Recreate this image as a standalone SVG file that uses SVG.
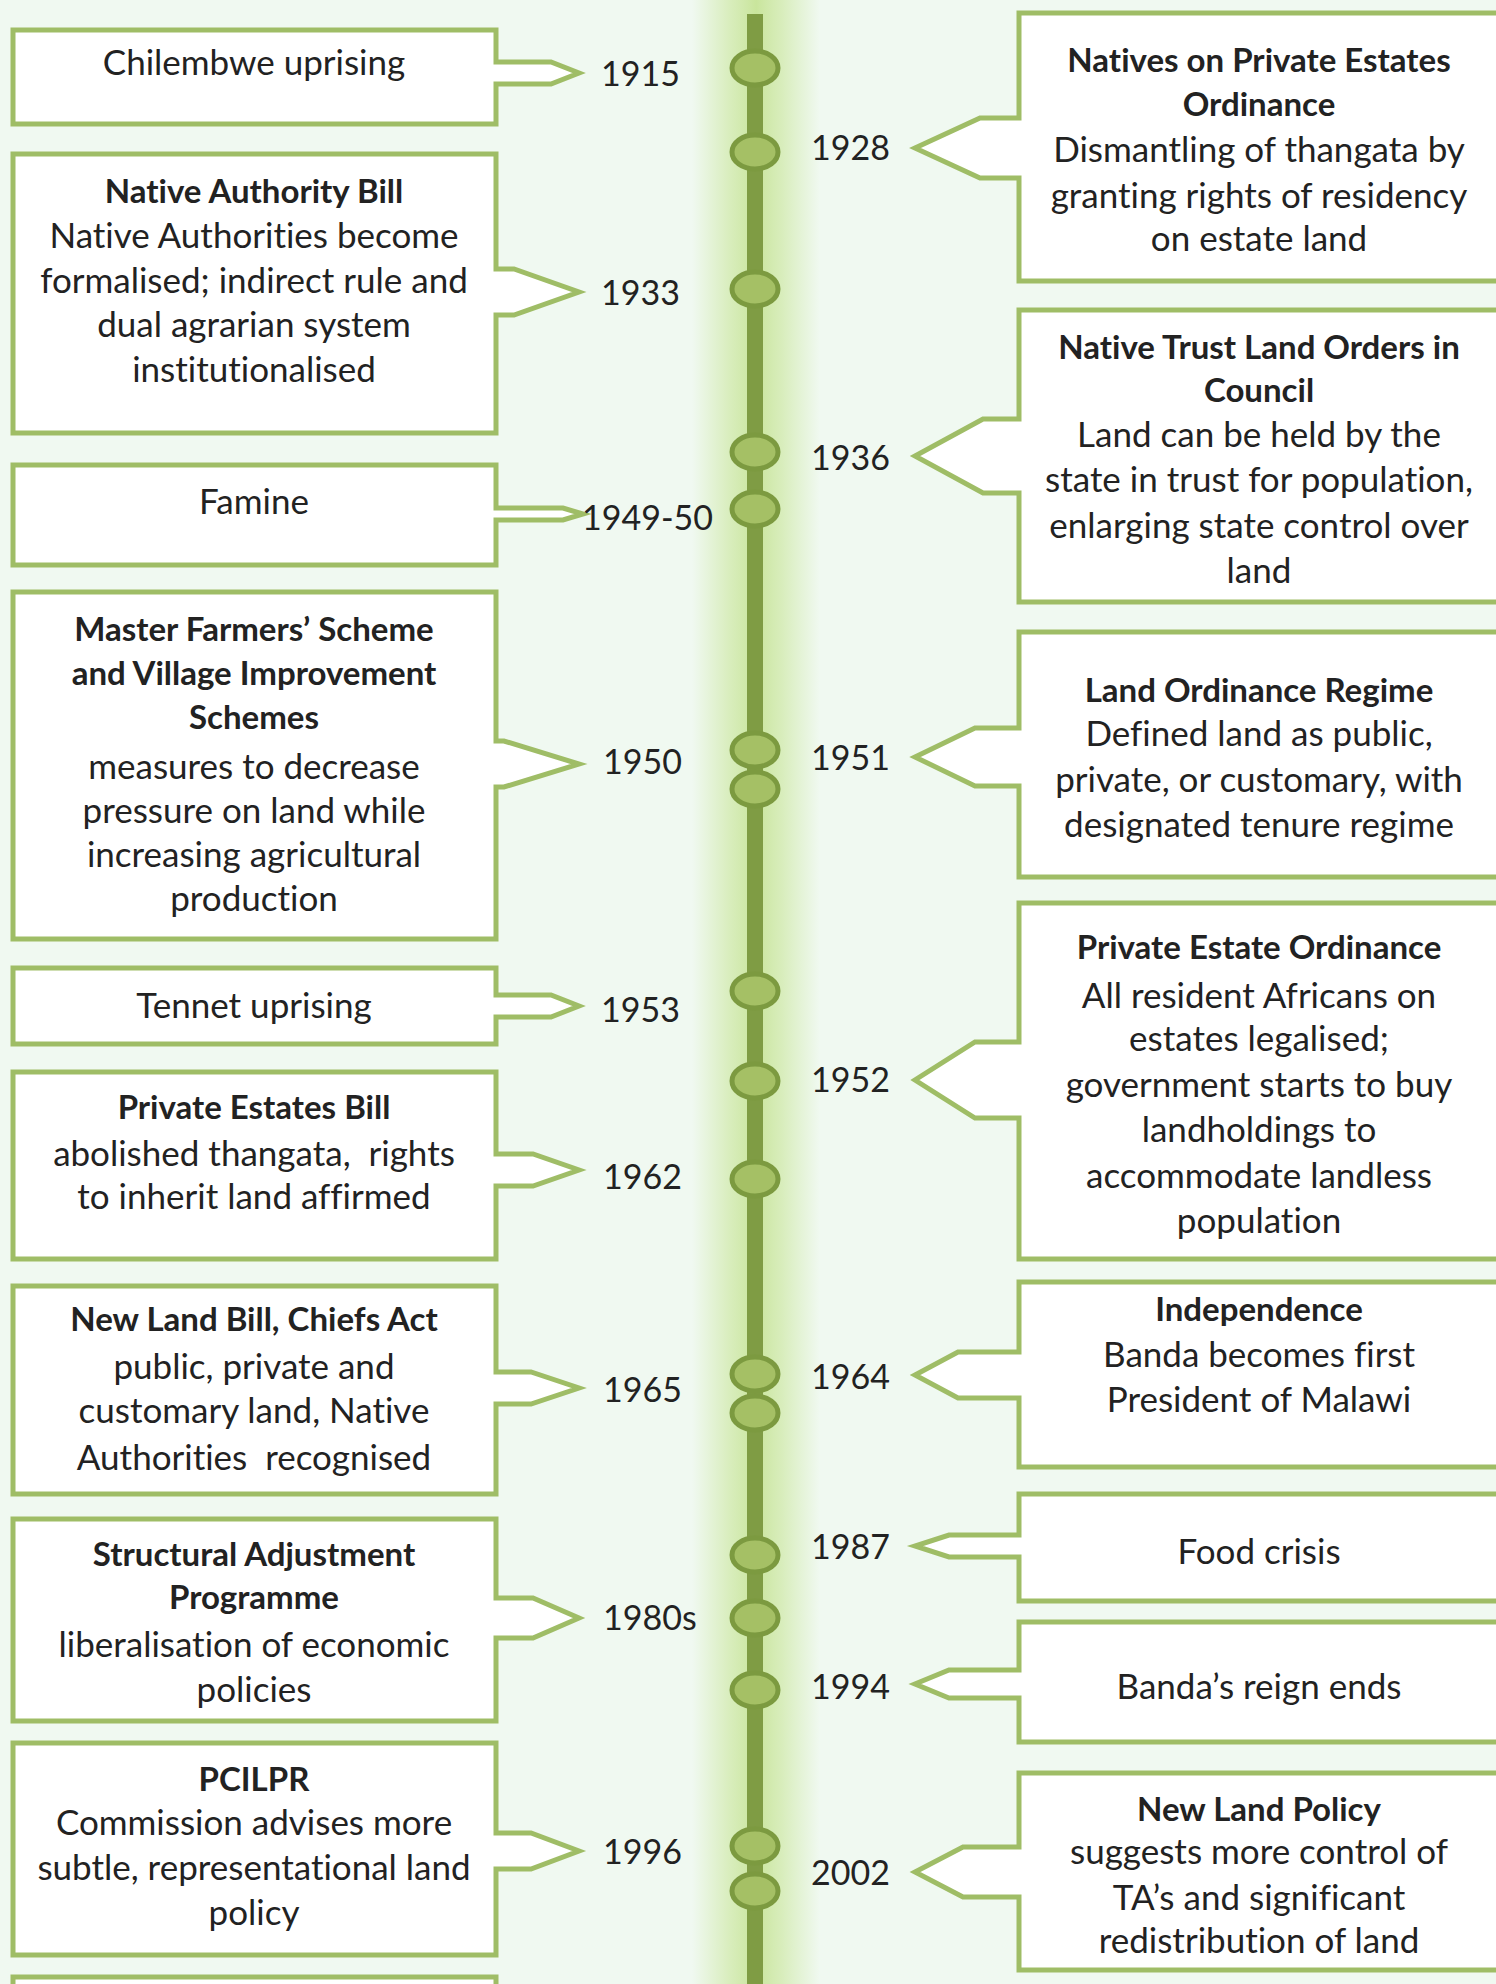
<svg xmlns="http://www.w3.org/2000/svg" width="1496" height="1984" viewBox="0 0 1496 1984">
<defs>
<linearGradient id="glow" x1="0" y1="0" x2="1" y2="0">
<stop offset="0" stop-color="#d2eaae" stop-opacity="0"/>
<stop offset="0.3" stop-color="#d2eaae" stop-opacity="0.8"/>
<stop offset="0.5" stop-color="#c9e59c" stop-opacity="1"/>
<stop offset="0.7" stop-color="#d2eaae" stop-opacity="0.8"/>
<stop offset="1" stop-color="#d2eaae" stop-opacity="0"/>
</linearGradient>
<style>
.box{fill:#ffffff;stroke:#9fbd66;stroke-width:5;stroke-linejoin:miter}
.t{font-family:Lato,"Open Sans","Liberation Sans",sans-serif;font-size:35px;fill:#222222;text-anchor:middle;font-variant-ligatures:none;font-feature-settings:"liga" 0,"clig" 0}
.b{font-weight:700;font-size:33px}
.yr{font-family:Lato,"Open Sans","Liberation Sans",sans-serif;font-size:34px;fill:#222222;text-anchor:start}
.dot{fill:#a5c065;stroke:#7c9a40;stroke-width:5}
.spine{fill:#7f9c44}
</style>
</defs>
<rect width="1496" height="1984" fill="#f0f9f1"/>
<rect x="692" y="0" width="128" height="1984" fill="url(#glow)"/>

<g id="timeline">
<rect class="spine" x="747" y="14" width="16" height="1970"/>
<ellipse class="dot" cx="755" cy="68" rx="23" ry="17"/>
<ellipse class="dot" cx="755" cy="152" rx="23" ry="17"/>
<ellipse class="dot" cx="755" cy="289" rx="23" ry="17"/>
<ellipse class="dot" cx="755" cy="452" rx="23" ry="17"/>
<ellipse class="dot" cx="755" cy="509" rx="23" ry="17"/>
<ellipse class="dot" cx="755" cy="750" rx="23" ry="17"/>
<ellipse class="dot" cx="755" cy="789" rx="23" ry="17"/>
<ellipse class="dot" cx="755" cy="991" rx="23" ry="17"/>
<ellipse class="dot" cx="755" cy="1081" rx="23" ry="17"/>
<ellipse class="dot" cx="755" cy="1179" rx="23" ry="17"/>
<ellipse class="dot" cx="755" cy="1374" rx="23" ry="17"/>
<ellipse class="dot" cx="755" cy="1413" rx="23" ry="17"/>
<ellipse class="dot" cx="755" cy="1555" rx="23" ry="17"/>
<ellipse class="dot" cx="755" cy="1618" rx="23" ry="17"/>
<ellipse class="dot" cx="755" cy="1690" rx="23" ry="17"/>
<ellipse class="dot" cx="755" cy="1846" rx="23" ry="17"/>
<ellipse class="dot" cx="755" cy="1891" rx="23" ry="17"/>
</g>

<g id="node-1915">
<path class="box" d="M13 30 H496 V62 H551 L579 73 L551 84 H496 V124 H13 Z"/>
<text class="t" x="254" y="75">Chilembwe uprising</text>
<text class="yr" x="601" y="86">1915</text>
</g>

<g id="node-1933">
<path class="box" d="M13 154 H496 V269 H514 L579 292 L514 315 H496 V433 H13 Z"/>
<text class="t b" x="254" y="203">Native Authority Bill</text>
<text class="t" x="254" y="248">Native Authorities become</text>
<text class="t" x="254" y="293">formalised; indirect rule and</text>
<text class="t" x="254" y="337">dual agrarian system</text>
<text class="t" x="254" y="382">institutionalised</text>
<text class="yr" x="601" y="305">1933</text>
</g>

<g id="node-1949-50">
<path class="box" d="M13 465 H496 V508 H563 L583 514 L563 520 H496 V565 H13 Z"/>
<text class="t" x="254" y="514">Famine</text>
<text class="yr" x="582" y="530">1949-50</text>
</g>

<g id="node-1950">
<path class="box" d="M13 592 H496 V741 H504 L579 764 L504 787 H496 V939 H13 Z"/>
<text class="t b" x="254" y="641">Master Farmers’ Scheme</text>
<text class="t b" x="254" y="685">and Village Improvement</text>
<text class="t b" x="254" y="729">Schemes</text>
<text class="t" x="254" y="779">measures to decrease</text>
<text class="t" x="254" y="823">pressure on land while</text>
<text class="t" x="254" y="867">increasing agricultural</text>
<text class="t" x="254" y="911">production</text>
<text class="yr" x="603" y="774">1950</text>
</g>

<g id="node-1953">
<path class="box" d="M13 968 H496 V995 H551 L579 1006 L551 1017 H496 V1044 H13 Z"/>
<text class="t" x="254" y="1018">Tennet uprising</text>
<text class="yr" x="601" y="1022">1953</text>
</g>

<g id="node-1962">
<path class="box" d="M13 1072 H496 V1154 H533 L579 1170 L533 1186 H496 V1259 H13 Z"/>
<text class="t b" x="254" y="1119">Private Estates Bill</text>
<text class="t" x="254" y="1166" xml:space="preserve">abolished thangata,  rights</text>
<text class="t" x="254" y="1209">to inherit land affirmed</text>
<text class="yr" x="603" y="1189">1962</text>
</g>

<g id="node-1965">
<path class="box" d="M13 1286 H496 V1372 H531 L579 1388 L531 1404 H496 V1494 H13 Z"/>
<text class="t b" x="254" y="1331">New Land Bill, Chiefs Act</text>
<text class="t" x="254" y="1379">public, private and</text>
<text class="t" x="254" y="1423">customary land, Native</text>
<text class="t" x="254" y="1470" xml:space="preserve">Authorities  recognised</text>
<text class="yr" x="603" y="1402">1965</text>
</g>

<g id="node-1980s">
<path class="box" d="M13 1519 H496 V1598 H533 L579 1618 L533 1638 H496 V1721 H13 Z"/>
<text class="t b" x="254" y="1566">Structural Adjustment</text>
<text class="t b" x="254" y="1609">Programme</text>
<text class="t" x="254" y="1657">liberalisation of economic</text>
<text class="t" x="254" y="1702">policies</text>
<text class="yr" x="603" y="1630">1980s</text>
</g>

<g id="node-1996">
<path class="box" d="M13 1743 H496 V1833 H531 L579 1851 L531 1869 H496 V1955 H13 Z"/>
<text class="t b" x="254" y="1791">PCILPR</text>
<text class="t" x="254" y="1835">Commission advises more</text>
<text class="t" x="254" y="1880">subtle, representational land</text>
<text class="t" x="254" y="1925">policy</text>
<text class="yr" x="603" y="1864">1996</text>
</g>

<g id="node-left-next">
<path class="box" d="M13 1977 H496 V2100 H13 Z"/>
</g>

<g id="node-1928">
<path class="box" d="M1505 13 H1019 V118 H980 L915 148 L980 178 H1019 V281 H1505 Z"/>
<text class="t b" x="1259" y="72">Natives on Private Estates</text>
<text class="t b" x="1259" y="116">Ordinance</text>
<text class="t" x="1259" y="162">Dismantling of thangata by</text>
<text class="t" x="1259" y="208">granting rights of residency</text>
<text class="t" x="1259" y="251">on estate land</text>
<text class="yr" x="811" y="160">1928</text>
</g>

<g id="node-1936">
<path class="box" d="M1505 310 H1019 V419 H983 L915 456 L983 493 H1019 V602 H1505 Z"/>
<text class="t b" x="1259" y="359">Native Trust Land Orders in</text>
<text class="t b" x="1259" y="402">Council</text>
<text class="t" x="1259" y="447">Land can be held by the</text>
<text class="t" x="1259" y="492">state in trust for population,</text>
<text class="t" x="1259" y="538">enlarging state control over</text>
<text class="t" x="1259" y="583">land</text>
<text class="yr" x="811" y="470">1936</text>
</g>

<g id="node-1951">
<path class="box" d="M1505 632 H1019 V728 H975 L915 757 L975 786 H1019 V877 H1505 Z"/>
<text class="t b" x="1259" y="702">Land Ordinance Regime</text>
<text class="t" x="1259" y="746">Defined land as public,</text>
<text class="t" x="1259" y="792">private, or customary, with</text>
<text class="t" x="1259" y="837">designated tenure regime</text>
<text class="yr" x="811" y="770">1951</text>
</g>

<g id="node-1952">
<path class="box" d="M1505 903 H1019 V1042 H975 L915 1080 L975 1118 H1019 V1259 H1505 Z"/>
<text class="t b" x="1259" y="959">Private Estate Ordinance</text>
<text class="t" x="1259" y="1008">All resident Africans on</text>
<text class="t" x="1259" y="1051">estates legalised;</text>
<text class="t" x="1259" y="1097">government starts to buy</text>
<text class="t" x="1259" y="1142">landholdings to</text>
<text class="t" x="1259" y="1188">accommodate landless</text>
<text class="t" x="1259" y="1233">population</text>
<text class="yr" x="811" y="1092">1952</text>
</g>

<g id="node-1964">
<path class="box" d="M1505 1282 H1019 V1352 H958 L915 1375 L958 1398 H1019 V1467 H1505 Z"/>
<text class="t b" x="1259" y="1321">Independence</text>
<text class="t" x="1259" y="1367">Banda becomes first</text>
<text class="t" x="1259" y="1412">President of Malawi</text>
<text class="yr" x="811" y="1389">1964</text>
</g>

<g id="node-1987">
<path class="box" d="M1505 1494 H1019 V1535 H949 L915 1546 L949 1557 H1019 V1601 H1505 Z"/>
<text class="t" x="1259" y="1564">Food crisis</text>
<text class="yr" x="811" y="1559">1987</text>
</g>

<g id="node-1994">
<path class="box" d="M1505 1622 H1019 V1670 H949 L915 1684 L949 1698 H1019 V1742 H1505 Z"/>
<text class="t" x="1259" y="1699">Banda’s reign ends</text>
<text class="yr" x="811" y="1699">1994</text>
</g>

<g id="node-2002">
<path class="box" d="M1505 1773 H1019 V1847 H963 L915 1872 L963 1897 H1019 V1970 H1505 Z"/>
<text class="t b" x="1259" y="1821">New Land Policy</text>
<text class="t" x="1259" y="1864">suggests more control of</text>
<text class="t" x="1259" y="1910">TA’s and significant</text>
<text class="t" x="1259" y="1953">redistribution of land</text>
<text class="yr" x="811" y="1885">2002</text>
</g>
</svg>
